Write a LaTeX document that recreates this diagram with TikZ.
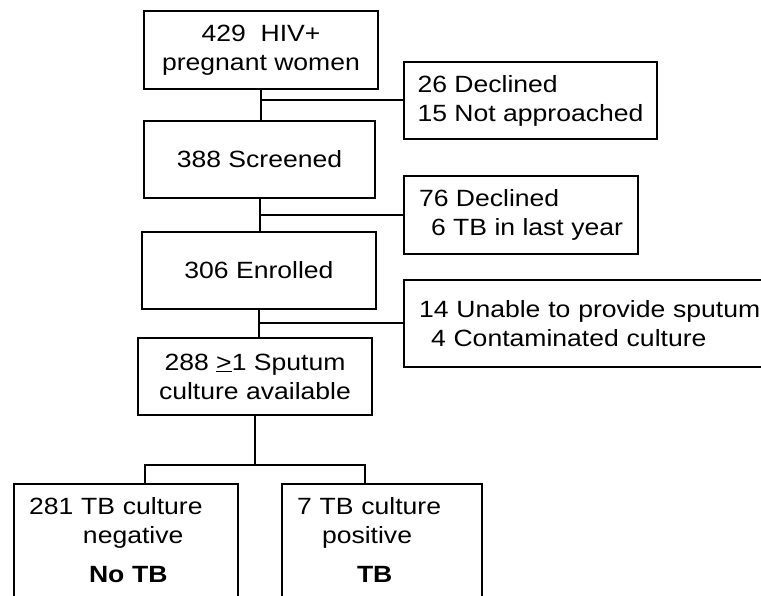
\documentclass[tikz,border=0pt]{standalone}
\usepackage{fontspec}
\setmainfont[FakeStretch=1.13]{Liberation Sans}
\usetikzlibrary{positioning}

\tikzset{
  flowbox/.style={draw, line width=2pt, align=center, inner sep=0pt, anchor=north west},
  sidebox/.style={draw, line width=2pt, align=left, inner sep=0pt, anchor=north west},
  endbox/.style={draw, line width=2pt, align=left, inner xsep=15pt, inner ysep=13pt,
    text depth=97pt, anchor=north west},
  link/.style={line width=2pt}
}

\begin{document}
\begin{tikzpicture}[x=1pt, y=-1pt, every node/.style={font=\fontsize{23.5}{29}\selectfont}]
    \useasboundingbox (0,0) rectangle (761,596);
    \clip (0,0) rectangle (761,596);
    % main column
    \node[flowbox, minimum width=234pt, minimum height=78pt] (hiv) at (143,10) {429~ HIV+\\pregnant women};
    \node[flowbox, minimum width=231pt, minimum height=77pt] (scr) at (143,120) {388 Screened};
    \node[flowbox, minimum width=234pt, minimum height=77pt] (enr) at (141,231) {306 Enrolled};
    \node[flowbox, minimum width=234pt, minimum height=77pt] (spt) at (137,337) {288 \underline{>}1 Sputum\\culture available};
    % exclusions
    \node[sidebox, minimum width=253pt, minimum height=77pt] (decl1) at (403,61) {26 Declined\\15 Not approached};
    \node[sidebox, minimum width=234pt, minimum height=78pt] (decl2) at (403,175) {76 Declined\\\hspace*{12pt}6 TB in last year};
    \node[sidebox, text width=380pt, inner xsep=15pt, minimum height=87pt] (decl3) at (403,279) {14 Unable to provide sputum\\\hspace*{12pt}4 Contaminated culture};
    % outcome
    \node[endbox, text width=194pt] (neg) at (13,483) {281 TB culture\\\hspace*{54pt}negative\\[10pt]\hspace*{60pt}\textbf{No TB}};
    \node[endbox, text width=170pt] (pos) at (281,483) {7 TB culture\\\hspace*{25pt}positive\\[10pt]\hspace*{60pt}\textbf{TB}};
    \coordinate (negleg) at (145,465);
    \coordinate (posleg) at (365,465);
    \draw[link] (hiv.south) -- (hiv.south |- scr.north);
    \draw[link] (scr.south) -- (scr.south |- enr.north);
    \draw[link] (enr.south) -- (enr.south |- spt.north);
    \draw[link] (decl1.west) -- (decl1.west -| hiv.south);
    \draw[link] (decl2.west) -- (decl2.west -| scr.south);
    \draw[link] (decl3.west) -- (decl3.west -| enr.south);
    \draw[link] (spt.south) -- (spt.south |- negleg);
    \draw[link] (negleg |- neg.north) -- (negleg) -- (posleg) -- (posleg |- pos.north);
\end{tikzpicture}
\end{document}
